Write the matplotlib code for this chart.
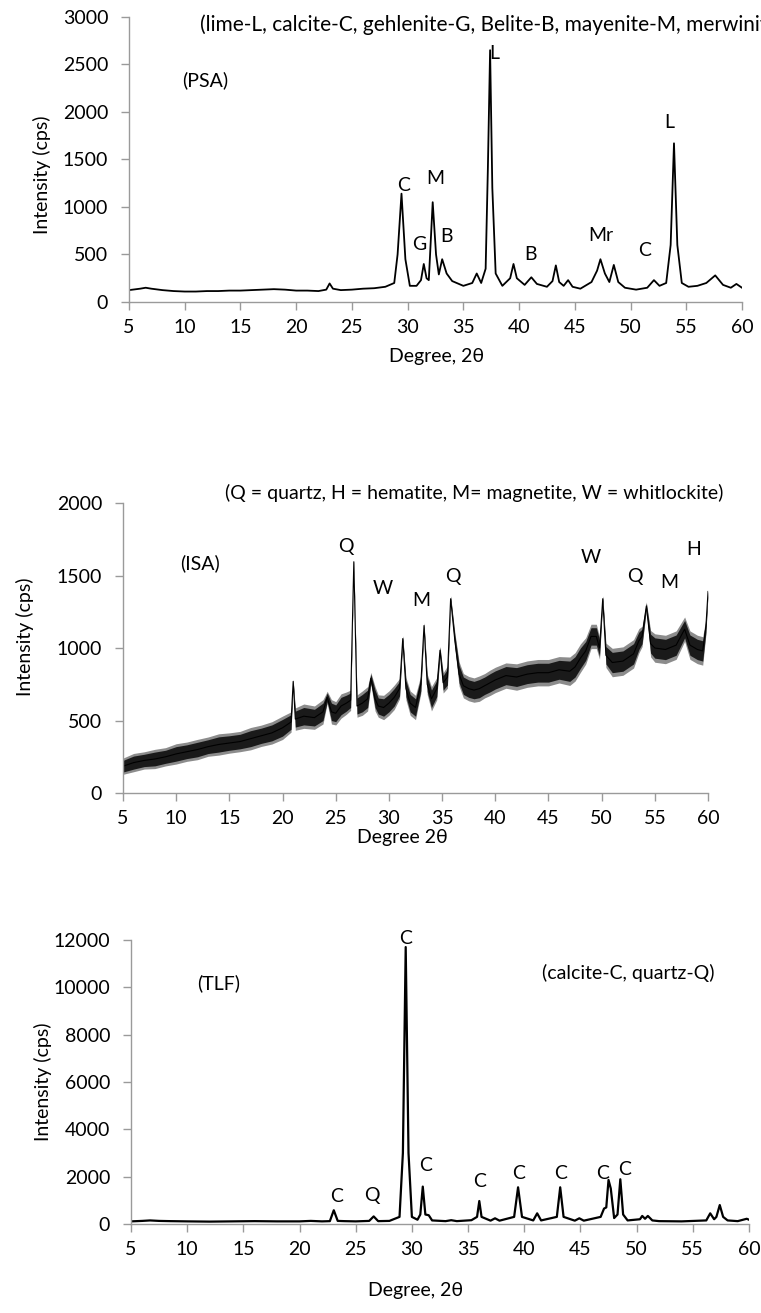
"""Three XRD patterns (PSA, ISA, TLF) stacked in one tall figure."""
import matplotlib
matplotlib.use("Agg")
import matplotlib.pyplot as plt

plt.rcParams["font.family"] = ["Lato", "DejaVu Sans"]

# ---- PSA: 2theta / intensity --------------------------------------------------------
psa_x = [5, 6, 6.5, 7, 8, 9, 10, 11, 12, 13, 14, 15, 16, 17, 18, 19, 20, 21, 22, 22.7,
         23.0, 23.3, 24, 25, 26, 27, 28, 28.8, 29.1, 29.45, 29.8, 30.2, 30.8, 31.2, 31.45,
         31.7, 31.9, 32.25, 32.55, 32.8, 33.1, 33.5, 34, 35, 35.8, 36.2, 36.6, 37.0, 37.2,
         37.4, 37.6, 37.9, 38.5, 39.2, 39.5, 39.8, 40.5, 41.1, 41.6, 42.5, 43.0, 43.3, 43.6,
         44.0, 44.4, 44.8, 45.5, 46.5, 47.0, 47.3, 47.7, 48.1, 48.5, 48.9, 49.5, 50.5, 51.5,
         52.1, 52.6, 53.2, 53.6, 53.9, 54.2, 54.6, 55.2, 56, 56.8, 57.6, 58.3, 59, 59.5, 60]
psa_y = [125, 140, 150, 140, 125, 115, 110, 110, 115, 115, 120, 120, 125, 130, 135, 130,
         120, 120, 115, 130, 195, 140, 125, 130, 140, 145, 160, 200, 500, 1140, 450, 170,
         170, 230, 400, 250, 230, 1050, 500, 290, 450, 300, 220, 170, 200, 300, 200, 350,
         1400, 2650, 1200, 300, 170, 250, 400, 250, 180, 260, 190, 160, 220, 385, 210, 170,
         230, 160, 140, 210, 330, 450, 300, 210, 390, 210, 150, 130, 150, 230, 170, 200,
         600, 1670, 600, 200, 160, 170, 200, 280, 180, 150, 190, 150]
psa_labels = ["C", "G", "M", "B", "L", "B", "Mr", "C", "L"]
psa_lab_x = [29.6, 31.0, 32.45, 33.45, 37.75, 41.0, 47.3, 51.3, 53.5]
psa_lab_y = [1230, 600, 1300, 690, 2610, 495, 705, 547, 1890]

# ---- ISA: noisy trace, centre line + band height of the noise ----------------------
isa_x = [5, 6, 7, 8, 9, 10, 11, 12, 13, 14, 15, 16, 17, 18, 19, 20, 20.8, 21.0, 21.2, 22,
         23, 23.8, 24.2, 24.6, 25, 25.5, 26, 26.4, 26.7, 27.0, 27.5, 28, 28.3, 28.7, 29,
         29.5, 30, 30.5, 31.0, 31.3, 31.6, 32, 32.5, 33.0, 33.3, 33.6, 34, 34.5, 34.8, 35.1,
         35.5, 35.8, 36.2, 36.6, 37, 37.5, 38, 38.5, 39, 39.5, 40, 41, 42, 43, 44, 45, 46,
         47, 47.5, 48, 48.5, 49, 49.5, 49.8, 50.1, 50.4, 51, 52, 53, 53.5, 53.8, 54.2, 54.6,
         55, 56, 57, 57.8, 58.3, 59, 59.5, 59.8, 60]
isa_y = [185, 210, 225, 235, 250, 270, 285, 300, 320, 335, 345, 355, 375, 395, 415, 450,
         490, 770, 510, 530, 520, 560, 660, 560, 550, 600, 620, 640, 1595, 600, 620, 650,
         790, 650, 600, 590, 620, 660, 720, 1065, 720, 620, 590, 750, 1155, 750, 650, 720,
         985, 760, 800, 1340, 1050, 820, 740, 720, 710, 720, 740, 760, 780, 810, 800, 820,
         830, 830, 850, 840, 870, 930, 980, 1080, 1080, 1000, 1340, 950, 900, 910, 960,
         1050, 1080, 1290, 1030, 1000, 990, 1020, 1130, 1020, 990, 980, 1150, 1390]
isa_band = [80, 90, 85, 95, 90, 100, 95, 100, 95, 105, 100, 100, 110, 105, 110, 115,
            100, 20, 110, 120, 115, 120, 60, 120, 115, 120, 110, 100, 15, 110, 120, 120,
            60, 120, 110, 120, 120, 120, 100, 30, 110, 120, 120, 90, 30, 100, 120, 110,
            40, 100, 110, 30, 80, 120, 120, 120, 120, 125, 120, 125, 125, 125, 130, 130,
            130, 130, 130, 140, 140, 140, 130, 120, 120, 110, 30, 120, 140, 140, 140, 120,
            100, 40, 130, 140, 140, 140, 120, 140, 140, 140, 80, 20]
isa_labels = ["Q", "W", "M", "Q", "W", "Q", "M", "H"]
isa_lab_x = [26.0, 29.4, 33.0, 36.05, 49.0, 53.1, 56.4, 58.6]
isa_lab_y = [1700, 1410, 1330, 1495, 1625, 1495, 1455, 1680]

# ---- TLF ---------------------------------------------------------------------------
tlf_x = [5, 6, 6.7, 7.5, 8.5, 10, 12, 14, 15, 16, 18, 20, 21, 22, 22.7, 23.05, 23.4, 24,
         25, 26.2, 26.6, 27.0, 28, 28.9, 29.2, 29.45, 29.7, 30.0, 30.5, 30.75, 30.97, 31.2,
         31.5, 31.8, 33, 33.5, 34, 35.3, 35.8, 36.0, 36.2, 37, 37.4, 37.8, 39.1, 39.45,
         39.8, 40.8, 41.15, 41.5, 42.9, 43.2, 43.5, 44.5, 44.9, 45.3, 46.8, 47.1, 47.3,
         47.5, 47.7, 48.0, 48.3, 48.55, 48.8, 49.2, 50.3, 50.5, 50.75, 51.0, 51.4, 52, 54,
         56.2, 56.55, 56.9, 57.1, 57.4, 57.7, 58.1, 59, 59.8, 60]
tlf_y = [110, 130, 150, 130, 120, 110, 100, 110, 115, 120, 110, 110, 130, 110, 120, 580,
         130, 120, 110, 130, 320, 120, 130, 300, 3000, 11700, 3000, 300, 180, 400, 1580,
         400, 370, 150, 120, 160, 120, 160, 300, 970, 300, 140, 240, 140, 300, 1550, 300,
         150, 450, 150, 300, 1550, 300, 140, 240, 140, 300, 650, 700, 1860, 1500, 250, 400,
         1890, 400, 150, 200, 340, 220, 340, 150, 120, 110, 150, 450, 200, 300, 800, 300,
         150, 120, 220, 180]
tlf_labels = ["C", "Q", "C", "C", "C", "C", "C", "C", "C"]
tlf_lab_x = [23.3, 26.4, 29.4, 31.2, 36.0, 39.5, 43.2, 47.0, 48.9]
tlf_lab_y = [1150, 1220, 12080, 2490, 1790, 2140, 2140, 2140, 2310]

AX_GREY = "#9a9a9a"
FS = 14


def style(ax, ymax, ystep):
    ax.set_xlim(5, 60)
    ax.set_ylim(0, ymax)
    ax.set_xticks(range(5, 61, 5))
    ax.set_yticks(range(0, ymax + 1, ystep))
    for s in ("top", "right"):
        ax.spines[s].set_visible(False)
    for s in ("left", "bottom"):
        ax.spines[s].set_color(AX_GREY)
        ax.spines[s].set_linewidth(1.0)
    ax.tick_params(direction="out", length=6, width=1.0, color=AX_GREY, labelsize=FS)
    ax.tick_params(axis="x", pad=6)
    ax.tick_params(axis="y", pad=9)
    ax.set_ylabel("Intensity (cps)", fontsize=FS)


def main():
    fig = plt.figure(figsize=(7.61, 13.13), dpi=100)

    # PSA
    ax1 = fig.add_axes([0.1695, 0.7700, 0.8055, 0.2171])
    ax1.plot(psa_x, psa_y, color="black", lw=1.3)
    style(ax1, 3000, 500)
    ax1.set_xlabel("Degree, 2θ", fontsize=FS)
    ax1.xaxis.set_label_coords(0.502, -0.16)
    ax1.yaxis.set_label_coords(-0.128, 0.446)
    ax1.text(9.8, 2330, "(PSA)", fontsize=FS, va="center")
    # runs off the right edge of the figure, as in the source
    ax1.text(11.4, 2920, "(lime-L, calcite-C, gehlenite-G, Belite-B, mayenite-M, merwinite-Mr)",
             fontsize=15, va="center", clip_on=False)
    for t, x, y in zip(psa_labels, psa_lab_x, psa_lab_y):
        ax1.text(x, y, t, fontsize=FS, ha="center", va="center")

    # ISA -- the band is the spread of the noisy trace, grey fringe outside it
    ax2 = fig.add_axes([0.1616, 0.3960, 0.7688, 0.2209])
    lo = [y - b / 2 for y, b in zip(isa_y, isa_band)]
    hi = [y + b / 2 for y, b in zip(isa_y, isa_band)]
    lo2 = [y - 0.7 * b for y, b in zip(isa_y, isa_band)]
    hi2 = [y + 0.7 * b for y, b in zip(isa_y, isa_band)]
    ax2.fill_between(isa_x, lo2, hi2, color="#8c8c8c", lw=0)
    ax2.fill_between(isa_x, lo, hi, color="#1a1a1a", lw=0)
    ax2.plot(isa_x, isa_y, color="black", lw=0.8)
    style(ax2, 2000, 500)
    ax2.set_xlabel("Degree 2θ", fontsize=FS)
    ax2.xaxis.set_label_coords(0.477, -0.125)
    ax2.yaxis.set_label_coords(-0.152, 0.538)
    ax2.text(10.4, 1585, "(ISA)", fontsize=FS, va="center")
    ax2.text(38.0, 2070, "(Q = quartz, H = hematite, M= magnetite, W = whitlockite)",
             fontsize=FS, ha="center", va="center", clip_on=False)
    for t, x, y in zip(isa_labels, isa_lab_x, isa_lab_y):
        ax2.text(x, y, t, fontsize=FS, ha="center", va="center")

    # TLF
    ax3 = fig.add_axes([0.1721, 0.0678, 0.8121, 0.2163])
    ax3.plot(tlf_x, tlf_y, color="black", lw=1.6)
    style(ax3, 12000, 2000)
    ax3.set_xlabel("Degree, 2θ", fontsize=FS)
    ax3.xaxis.set_label_coords(0.46, -0.205)
    ax3.yaxis.set_label_coords(-0.128, 0.5)
    ax3.text(10.9, 10170, "(TLF)", fontsize=FS, va="center")
    ax3.text(49.3, 10590, "(calcite-C, quartz-Q)", fontsize=FS, ha="center", va="center")
    for t, x, y in zip(tlf_labels, tlf_lab_x, tlf_lab_y):
        ax3.text(x, y, t, fontsize=FS, ha="center", va="center")

    fig.savefig("out.png", dpi=100)


if __name__ == "__main__":
    main()
